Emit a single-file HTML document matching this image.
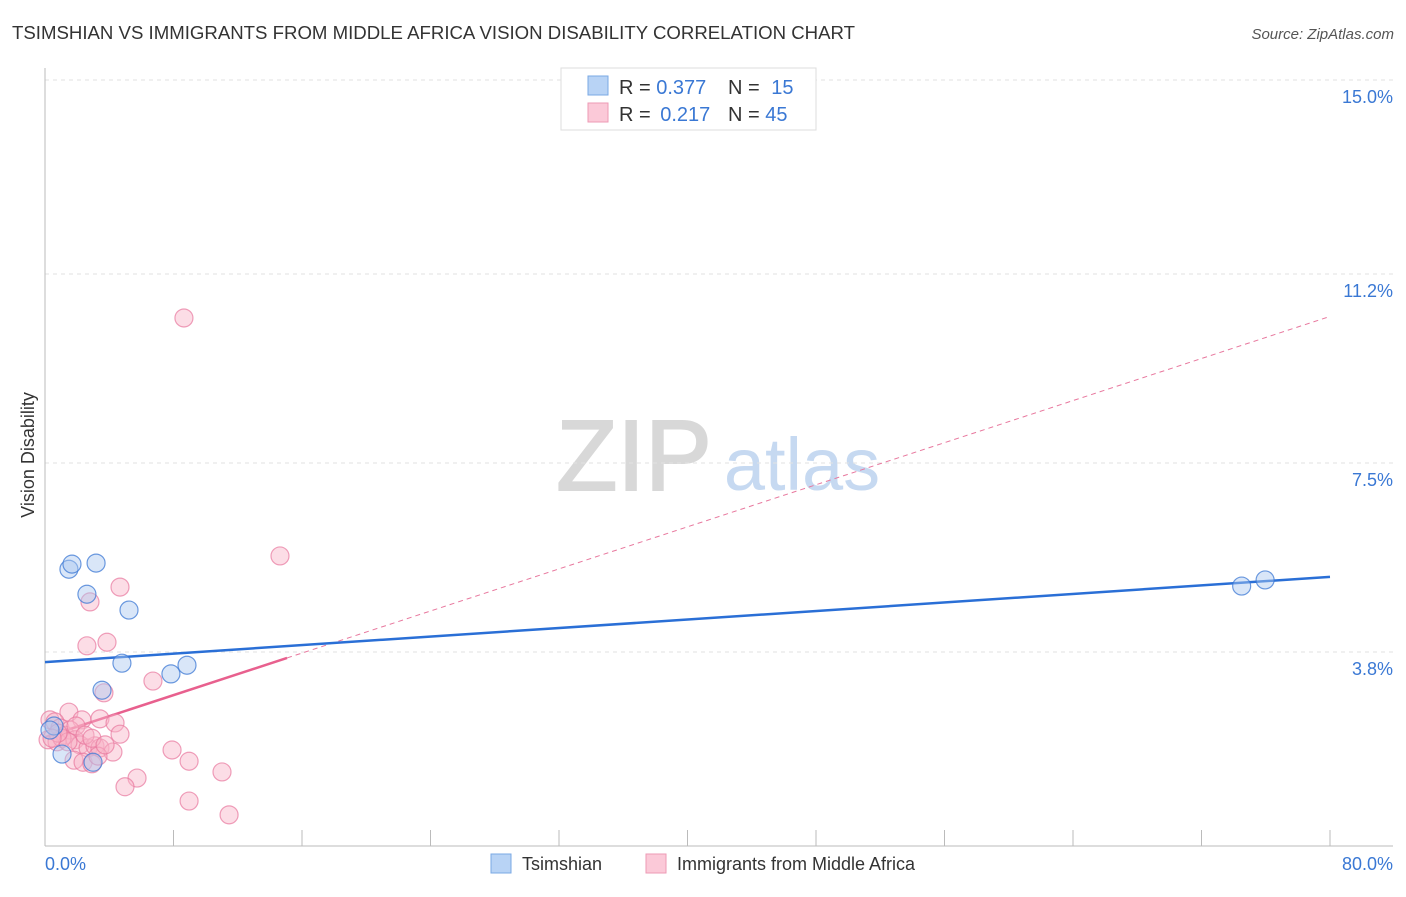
<!DOCTYPE html>
<html><head><meta charset="utf-8"><style>
body{margin:0;background:#fff;font-family:"Liberation Sans",sans-serif;}
svg text{font-family:"Liberation Sans",sans-serif;}
</style></head><body>
<svg width="1406" height="892" xmlns="http://www.w3.org/2000/svg" id="chart">
<text x="12" y="39" font-size="18" fill="#333" textLength="843" lengthAdjust="spacingAndGlyphs">TSIMSHIAN VS IMMIGRANTS FROM MIDDLE AFRICA VISION DISABILITY CORRELATION CHART</text>
<text x="1394" y="39" font-size="15" fill="#555" font-style="italic" text-anchor="end">Source: ZipAtlas.com</text>
<g>
<text x="634" y="490" font-size="100" font-family="Liberation Serif,serif" fill="#d8d8d8" text-anchor="middle" stroke="#d8d8d8" stroke-width="2">ZIP</text>
<text x="802" y="490" font-size="74" fill="#c6d9f1" text-anchor="middle">atlas</text>
</g>
<g id="grid"></g>
<g id="axes"></g>
<g id="lines"></g>
<g id="pts"></g>
<text transform="translate(34,455) rotate(-90)" font-size="18" fill="#333" text-anchor="middle">Vision Disability</text>
<text x="45" y="870" font-size="18" fill="#3a78d4">0.0%</text>
<text x="1393" y="870" font-size="18" fill="#3a78d4" text-anchor="end">80.0%</text>
<g>
<rect x="561" y="68" width="255" height="62" fill="#fff" stroke="#ddd"/>
<rect x="588" y="76" width="20" height="19" fill="#b8d3f5" stroke="#7aa8e4"/>
<rect x="588" y="103" width="20" height="19" fill="#fbc9d8" stroke="#ee9ab5"/>
<text x="619" y="94" font-size="20" fill="#333">R = <tspan fill="#3a78d4">0.377</tspan></text>
<text x="728" y="94" font-size="20" fill="#333">N = <tspan fill="#3a78d4" dx="6">15</tspan></text>
<text x="619" y="121" font-size="20" fill="#333">R = <tspan fill="#3a78d4" dx="4">0.217</tspan></text>
<text x="728" y="121" font-size="20" fill="#333">N = <tspan fill="#3a78d4">45</tspan></text>
</g>
<g>
<rect x="491" y="854" width="20" height="19" fill="#b8d3f5" stroke="#7aa8e4"/>
<text x="522" y="870" font-size="18" fill="#333">Tsimshian</text>
<rect x="646" y="854" width="20" height="19" fill="#fbc9d8" stroke="#ee9ab5"/>
<text x="677" y="870" font-size="18" fill="#333">Immigrants from Middle Africa</text>
</g>
</svg>
<script>
const yTicks=[3.8,7.5,11.2,15.0];
const yTickLabels=["3.8%","7.5%","11.2%","15.0%"];
const xTicks=[0,8,16,24,32,40,48,56,64,72,80];
const blueX=[1.49,1.68,3.18,2.61,5.23,4.79,7.84,8.84,3.55,0.56,1.06,2.99,74.5,75.96,0.31];
const blueY=[5.42,5.52,5.54,4.93,4.62,3.58,3.37,3.54,3.05,2.35,1.80,1.64,5.09,5.21,2.27];
const pinkX=[8.65,14.63,4.67,2.80,3.86,2.61,6.72,3.67,1.49,2.30,3.42,4.36,4.67,0.31,0.62,0.93,1.25,1.56,1.87,2.18,2.68,3.11,3.42,4.23,0.19,0.75,1.06,1.81,2.37,2.92,3.30,7.91,8.97,5.73,4.98,11.02,8.97,11.46,1.43,1.93,2.49,0.81,0.44,2.92,3.74];
const pinkY=[10.34,5.68,5.07,4.78,3.99,3.92,3.23,3.0,2.62,2.47,2.49,2.41,2.19,2.47,2.43,2.31,2.17,2.27,2.08,1.98,1.92,1.96,1.92,1.84,2.08,2.04,2.11,1.68,1.64,1.61,1.76,1.88,1.66,1.33,1.16,1.45,0.88,0.61,2.04,2.35,2.17,2.21,2.11,2.11,1.98];
const blueTrend=[3.60,5.27];
const pinkTrend=[2.13,10.37];
const pinkSolidEnd=15.07;
const NS="http://www.w3.org/2000/svg";
const X=v=>45+v/80*1285;
const Y=v=>846-v/15*766;
function mk(t,a,p){const e=document.createElementNS(NS,t);for(const k in a)e.setAttribute(k,a[k]);p.appendChild(e);return e;}
const grid=document.getElementById('grid'),axes=document.getElementById('axes'),lines=document.getElementById('lines'),pts=document.getElementById('pts');
yTicks.forEach((t,i)=>{
 const l=mk('line',{x1:45,x2:1393,y1:Y(t),y2:Y(t),stroke:'#e2e2e2','stroke-width':1,'stroke-dasharray':'4,4'},grid);
 
 
 const tx=mk('text',{x:1393,y:Y(t)+23,'font-size':18,fill:'#3a78d4','text-anchor':'end'},grid);
 tx.textContent=yTickLabels[i];
 
 
});
mk('line',{x1:45,x2:45,y1:68,y2:846,stroke:'#bbb'},axes);
mk('line',{x1:45,x2:1393,y1:846,y2:846,stroke:'#bbb'},axes);
xTicks.forEach(t=>{
 const l=mk('line',{x1:X(t),x2:X(t),y1:830,y2:846,stroke:'#bbb'},axes);
 
 
});
const pv=x=>pinkTrend[0]+(pinkTrend[1]-pinkTrend[0])*x/80;
let l1=mk('line',{x1:X(pinkSolidEnd),y1:Y(pv(pinkSolidEnd)),x2:X(80),y2:Y(pinkTrend[1]),stroke:'#e8789e','stroke-width':1,'stroke-dasharray':'5,4'},lines);


function dots(xs,ys,fill,stroke,name){xs.forEach((x,i)=>{
 const c=mk('circle',{cx:X(x),cy:Y(ys[i]),r:9,fill:fill,stroke:stroke,'stroke-width':1.2},pts);
 
 
});}
dots(pinkX,pinkY,'rgba(248,180,200,0.45)','rgba(232,120,158,0.7)','immigrants-point');
dots(blueX,blueY,'rgba(170,200,240,0.45)','rgba(60,120,212,0.75)','tsimshian-point');
let l2=mk('line',{x1:X(0),y1:Y(blueTrend[0]),x2:X(80),y2:Y(blueTrend[1]),stroke:'#2a6fd6','stroke-width':2.5},lines);


let l3=mk('line',{x1:X(0),y1:Y(pinkTrend[0]),x2:X(pinkSolidEnd),y2:Y(pv(pinkSolidEnd)),stroke:'#e8608e','stroke-width':2.5},lines);


</script>
</body></html>
